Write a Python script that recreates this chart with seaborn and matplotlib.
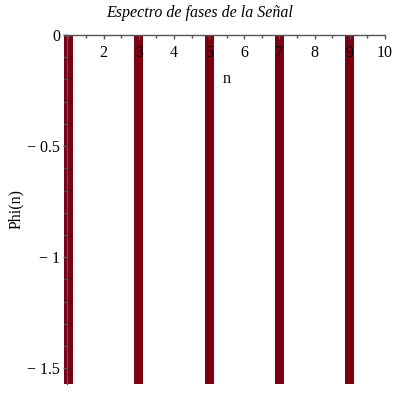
import numpy as np
import pandas as pd
import matplotlib
matplotlib.use("Agg")
import matplotlib.pyplot as plt
import seaborn as sns
from matplotlib.ticker import MultipleLocator, FixedLocator, FixedFormatter

# phase spectrum: odd harmonics at -pi/2
n_vals = [1, 3, 5, 7, 9]
phi_vals = [-np.pi / 2] * 5
x_ticks = [2, 3, 4, 5, 6, 7, 8, 9, 10]
y_ticks = [0, -0.5, -1, -1.5]
y_labels = ["0", "\u2212 0.5", "\u2212 1", "\u2212 1.5"]

df = pd.DataFrame({"n": n_vals, "phi": phi_vals})

sns.set_style("white")
plt.rcParams['font.family'] = ['Liberation Serif', 'DejaVu Serif']
plt.rcParams['text.color'] = 'black'
plt.rcParams['axes.labelcolor'] = 'black'

fig = plt.figure(figsize=(4, 4), dpi=100)
ax = fig.add_axes([0.16, 0.04, 0.8025, 0.8725])

sns.barplot(data=df, x="n", y="phi", native_scale=True, width=0.13,
            color="#7a0012", saturation=1, ax=ax, linewidth=0)

ax.set_xlim(0.875, 10)
ax.set_ylim(-np.pi / 2, 0)
ax.set_axisbelow(False)

for s in ["top", "right"]:
    ax.spines[s].set_visible(False)
ax.spines["bottom"].set_position(("data", 0))
ax.spines["left"].set_position(("data", 0.96))
for s in ["bottom", "left"]:
    ax.spines[s].set_color("#555555")
    ax.spines[s].set_linewidth(1.0)

ax.xaxis.set_major_locator(FixedLocator(x_ticks))
ax.xaxis.set_minor_locator(MultipleLocator(0.5))
ax.yaxis.set_major_locator(FixedLocator(y_ticks))
ax.yaxis.set_major_formatter(FixedFormatter(y_labels))
ax.yaxis.set_minor_locator(MultipleLocator(0.1))

ax.tick_params(axis="x", which="major", direction="out", length=3, width=1,
               color="#555555", labelcolor="black", labelsize=11.5, pad=4)
ax.tick_params(axis="x", which="minor", direction="out", length=2, width=1,
               color="#555555")
ax.tick_params(axis="y", which="major", direction="out", length=3, width=1,
               color="#555555", labelcolor="black", labelsize=11.5, pad=2)
ax.tick_params(axis="y", which="minor", direction="out", length=2, width=1,
               color="#555555")
ax.tick_params(bottom=True, left=True, which="both")

ax.set_xlabel("n", fontsize=11.5, color="black")
ax.xaxis.set_label_coords(0.508, 0.897)
ax.set_ylabel("Phi(n)", fontsize=11.5, color="black")
ax.yaxis.set_label_coords(-0.125, 0.5)

fig.text(0.5, 1 - 13 / 400, "Espectro de fases de la Se\u00f1al", ha="center",
         va="center", fontsize=11.5, style="italic", color="black")

fig.savefig("out.png", dpi=100)
